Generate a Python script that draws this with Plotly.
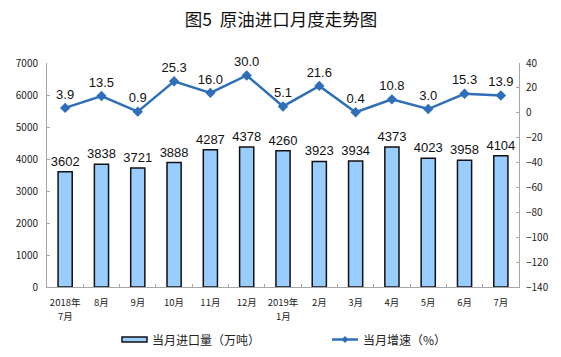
import plotly.graph_objects as go

categories = ["2018年7月", "2018年8月", "2018年9月", "2018年10月", "2018年11月", "2018年12月",
              "2019年1月", "2019年2月", "2019年3月", "2019年4月", "2019年5月", "2019年6月", "2019年7月"]
tick_labels = ["2018年", "8月", "9月", "10月", "11月", "12月", "2019年",
               "2月", "3月", "4月", "5月", "6月", "7月"]
tick_sublabels = ["7月", "", "", "", "", "", "1月", "", "", "", "", "", ""]
imports = [3602, 3838, 3721, 3888, 4287, 4378, 4260, 3923, 3934, 4373, 4023, 3958, 4104]
growth = [3.9, 13.5, 0.9, 25.3, 16.0, 30.0, 5.1, 21.6, 0.4, 10.8, 3.0, 15.3, 13.9]
left_ticks = [0, 1000, 2000, 3000, 4000, 5000, 6000, 7000]
right_ticks = [-140, -120, -100, -80, -60, -40, -20, 0, 20, 40]

bar_fill = "#99CCFF"
line_col = "#2E6FB8"
axis_col = "#A6A6A6"
cjk = "Noto Sans CJK SC"
lat = "Liberation Sans"

W, H = 561, 357
L, R, T, B = 47, 42, 63, 70
PW, PH = W - L - R, H - T - B


def px(x):
    return (x - L) / PW


def py(y):
    return (H - B - y) / PH


fig = go.Figure()
fig.add_trace(go.Bar(
    x=categories, y=imports, width=0.39,
    marker=dict(color=bar_fill, line=dict(color="#111111", width=1.5)),
    text=[str(v) for v in imports], textposition="outside", constraintext="none",
    textfont=dict(family=lat, size=13, color="#111111"),
    cliponaxis=False, showlegend=False, name="当月进口量（万吨）",
))
fig.add_trace(go.Scatter(
    x=categories, y=growth, yaxis="y2", mode="lines+markers+text",
    line=dict(color=line_col, width=2.5),
    marker=dict(symbol="diamond", size=8, color=line_col),
    text=[f"{v:.1f}" for v in growth], textposition="top center",
    textfont=dict(family=lat, size=13, color="#111111"),
    cliponaxis=False, showlegend=False, name="当月增速（%）",
))

fig.update_layout(
    width=W, height=H,
    margin=dict(l=L, r=R, t=T, b=B, autoexpand=False),
    paper_bgcolor="white", plot_bgcolor="white",
    title=dict(text="图5  原油进口月度走势图", x=281 / W, xanchor="center", y=(H - 20) / H, yanchor="middle",
               font=dict(family=cjk, size=17.5, color="#111111")),
    xaxis=dict(range=[-0.5, len(categories) - 0.5], autorange=False,
               tickmode="array", tickvals=categories, ticktext=tick_labels,
               showline=True, linecolor=axis_col, linewidth=1, ticks="inside", ticklen=3,
               tickcolor=axis_col, tickson="boundaries", tickangle=0, automargin=False,
               ticklabelstandoff=7,
               tickfont=dict(family=cjk, size=9.5, color="#222222"), showgrid=False),
    yaxis=dict(range=[0, 7000], tickvals=left_ticks, showline=True, linecolor=axis_col,
               ticks="inside", ticklen=3, tickcolor=axis_col, showgrid=False, zeroline=False,
               automargin=False, ticklabelstandoff=6,
               tickfont=dict(family=cjk, size=10, color="#222222")),
    yaxis2=dict(range=[-140, 40], tickvals=right_ticks, overlaying="y", side="right",
                showline=True, linecolor=axis_col, ticks="inside", ticklen=3, tickcolor=axis_col,
                showgrid=False, zeroline=False, automargin=False, ticklabelstandoff=4,
                tickfont=dict(family=cjk, size=10, color="#222222")),
    showlegend=False,
)

# second line of the year-start tick labels
for cat, sub in zip(categories, tick_sublabels):
    if sub:
        fig.add_annotation(xref="x", yref="paper", x=cat, y=py(315.5), text=sub, showarrow=False,
                           xanchor="center", yanchor="middle",
                           font=dict(family=cjk, size=9.5, color="#222222"))

# manual legend
ly = 339.5
fig.add_shape(type="rect", xref="paper", yref="paper",
              x0=px(122), x1=px(147), y0=py(342), y1=py(337),
              fillcolor=bar_fill, line=dict(color="#111111", width=1.5))
fig.add_annotation(xref="paper", yref="paper", x=px(150), y=py(ly),
                   text="当月进口量（万吨）", showarrow=False, xanchor="left", yanchor="middle",
                   font=dict(family=cjk, size=12, color="#222222"))
fig.add_shape(type="line", xref="paper", yref="paper",
              x0=px(332), x1=px(358), y0=py(ly), y1=py(ly),
              line=dict(color=line_col, width=2.5))
cx, d = 345, 3.5
fig.add_shape(type="path", xref="paper", yref="paper",
              path=f"M {px(cx)} {py(ly - d)} L {px(cx + d)} {py(ly)} L {px(cx)} {py(ly + d)} L {px(cx - d)} {py(ly)} Z",
              fillcolor=line_col, line=dict(color=line_col, width=0))
fig.add_annotation(xref="paper", yref="paper", x=px(361), y=py(ly),
                   text="当月增速（%）", showarrow=False, xanchor="left", yanchor="middle",
                   font=dict(family=cjk, size=12, color="#222222"))

fig.write_html("out.html", config={"displayModeBar": False},
               post_script="document.body.style.margin='0';document.body.style.padding='0';")
